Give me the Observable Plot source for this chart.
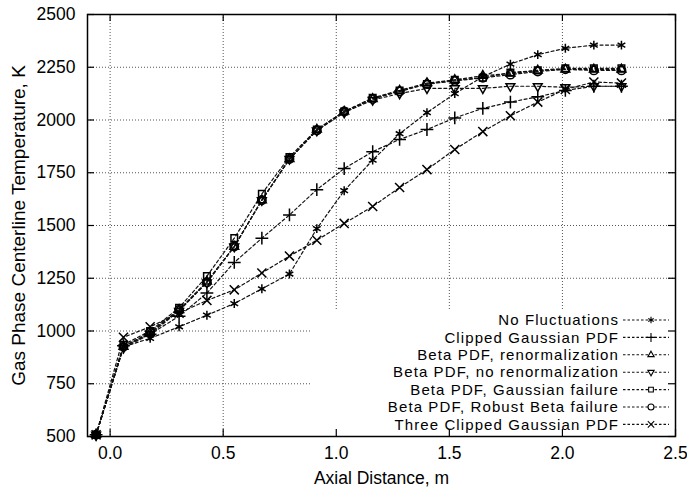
<!DOCTYPE html>
<html><head><meta charset="utf-8">
<script src="https://cdn.jsdelivr.net/npm/d3@7"></script>
<script src="https://cdn.jsdelivr.net/npm/@observablehq/plot@0.6"></script>
<style>
body{margin:0;background:#fff}
#chart{width:687px;height:490px}
</style>
</head><body><div id="chart"></div>
<script>
// ---- data ----
const axialDistance = [-0.062, 0.059, 0.177, 0.305, 0.428, 0.549, 0.671, 0.793, 0.914, 1.035, 1.161, 1.280, 1.401, 1.524, 1.648, 1.770, 1.891, 2.013, 2.139, 2.261];
const noFluctuations        = [508, 925, 965, 1020, 1075, 1130, 1200, 1270, 1485, 1665, 1810, 1935, 2035, 2125, 2205, 2265, 2310, 2340, 2355, 2355];
const clippedGaussian       = [508, 930, 985, 1070, 1180, 1325, 1440, 1550, 1670, 1770, 1850, 1908, 1955, 2010, 2055, 2085, 2110, 2140, 2160, 2160];
const betaRenorm            = [508, 925, 990, 1100, 1235, 1400, 1620, 1815, 1955, 2040, 2100, 2140, 2175, 2190, 2210, 2220, 2235, 2240, 2240, 2240];
const betaNoRenorm          = [508, 920, 985, 1095, 1230, 1400, 1620, 1815, 1950, 2035, 2095, 2125, 2150, 2150, 2150, 2160, 2160, 2155, 2160, 2160];
const betaGaussianFailure   = [508, 935, 1000, 1110, 1260, 1440, 1650, 1825, 1955, 2040, 2105, 2140, 2170, 2190, 2200, 2225, 2235, 2245, 2245, 2245];
const betaRobustFailure     = [508, 925, 995, 1100, 1230, 1400, 1620, 1815, 1950, 2040, 2100, 2135, 2170, 2185, 2200, 2215, 2230, 2240, 2235, 2235];
const threeClippedGaussian  = [508, 970, 1020, 1085, 1145, 1195, 1275, 1355, 1430, 1510, 1590, 1680, 1765, 1860, 1945, 2020, 2085, 2145, 2180, 2175];

const seriesNames = [
  "No Fluctuations",
  "Clipped Gaussian PDF",
  "Beta PDF, renormalization",
  "Beta PDF, no renormalization",
  "Beta PDF, Gaussian failure",
  "Beta PDF, Robust Beta failure",
  "Three Clipped Gaussian PDF"
];
const seriesValues = [noFluctuations, clippedGaussian, betaRenorm, betaNoRenorm, betaGaussianFailure, betaRobustFailure, threeClippedGaussian];
const seriesSymbols = ["asterisk", "plus", "triangle2", "triangle2", "square2", "circle", "times"];
const seriesRotate  = [0, 0, 0, 180, 0, 0, 0];

const xTicks = [0.0, 0.5, 1.0, 1.5, 2.0, 2.5];
const yTicks = [500, 750, 1000, 1250, 1500, 1750, 2000, 2250, 2500];
const xLabel = "Axial Distance, m";
const yLabel = "Gas Phase Centerline Temperature, K";

// ---- build ----
const rows = seriesNames.flatMap((name, s) =>
  axialDistance.map((x, i) => ({series: name, s, x, y: seriesValues[s][i]})));

const W = 687, H = 490;
const mL = 87, mR = 12, mT = 14, mB = 54;
const frameW = W - mL - mR, frameH = H - mT - mB;
const tickLen = 7;
// key area (grid is blanked under it in the original)
const keyInsetRight = 365;   // px from right frame edge
const keyInsetBottom = 126;  // px from bottom frame edge
const gridStyle = {stroke: "#555", strokeWidth: 1, strokeDasharray: "1,2"};
const fontFamily = "'Liberation Sans', Arial, Helvetica, sans-serif";

const marks = [
  // grid
  Plot.ruleY(yTicks.filter(v => v > 1000 && v < 2500), {y: d => d, ...gridStyle}),
  Plot.ruleY(yTicks.filter(v => v > 500 && v <= 1000), {y: d => d, insetRight: keyInsetRight, ...gridStyle}),
  Plot.ruleX(xTicks.filter(v => v < 1.0), {x: d => d, ...gridStyle}),
  Plot.ruleX(xTicks.filter(v => v >= 1.0 && v < 2.5), {x: d => d, insetBottom: keyInsetBottom, ...gridStyle}),
  // inward ticks
  Plot.ruleX(xTicks, {x: d => d, insetTop: frameH - tickLen, stroke: "#000", strokeWidth: 1.2}),
  Plot.ruleX(xTicks, {x: d => d, insetBottom: frameH - tickLen, stroke: "#000", strokeWidth: 1.2}),
  Plot.ruleY(yTicks, {y: d => d, insetRight: frameW - tickLen, stroke: "#000", strokeWidth: 1.2}),
  Plot.ruleY(yTicks, {y: d => d, insetLeft: frameW - tickLen, stroke: "#000", strokeWidth: 1.2}),
  // series lines
  Plot.line(rows, {x: "x", y: "y", z: "series", stroke: "#111", strokeWidth: 1.2, strokeDasharray: "3,2.5"}),
  // markers
  ...seriesNames.map((name, s) => Plot.dot(rows.filter(d => d.s === s), {
    x: "x", y: "y", symbol: seriesSymbols[s], rotate: seriesRotate[s],
    r: 4.2, stroke: "#000", strokeWidth: 1.5, fill: "none"
  })),
  Plot.frame({stroke: "#000", strokeWidth: 1.5}),
  Plot.axisX(xTicks, {tickSize: 0, tickPadding: 10, tickFormat: d3.format(".1f"), label: null}),
  Plot.axisY(yTicks, {tickSize: 0, tickPadding: 12, tickFormat: d => String(d), label: null}),
  Plot.text([xLabel], {text: d => d, frameAnchor: "bottom", dy: 42, lineAnchor: "middle", textAnchor: "middle"}),
  Plot.text([yLabel], {text: d => d, frameAnchor: "left", dx: -69, rotate: -90, lineAnchor: "middle", textAnchor: "middle", fontSize: 19})
];

const chart = Plot.plot({
  width: W, height: H,
  marginLeft: mL, marginRight: mR, marginTop: mT, marginBottom: mB,
  x: {domain: [-0.1, 2.5]},
  y: {domain: [500, 2500]},
  style: {fontFamily, fontSize: "17.5px", background: "#fff", color: "#000"},
  marks
});

// ---- key (legend), inside the frame at the lower right ----
const svg = d3.select(chart);
const key = svg.append("g").attr("font-family", fontFamily).attr("font-size", "15px").attr("letter-spacing", "1.1px");
const keyTextRight = 619, keyRowTop = 320, keyRowStep = 17.4;
const keySampleX1 = 623, keySampleX2 = 669, keyMarkX = 651;
const d3Sym = {asterisk: d3.symbolAsterisk, plus: d3.symbolPlus, triangle2: d3.symbolTriangle2, square2: d3.symbolSquare2, circle: d3.symbolCircle, times: d3.symbolTimes};
seriesNames.forEach((name, s) => {
  const cy = keyRowTop + s * keyRowStep;
  key.append("text").attr("x", keyTextRight).attr("y", cy).attr("dy", "0.35em")
    .attr("text-anchor", "end").attr("fill", "#000").text(name);
  key.append("line").attr("x1", keySampleX1).attr("x2", keySampleX2).attr("y1", cy).attr("y2", cy)
    .attr("stroke", "#111").attr("stroke-width", 1.1).attr("stroke-dasharray", "2.5,2");
  key.append("path")
    .attr("d", d3.symbol(d3Sym[seriesSymbols[s]], 3 * 3 * Math.PI)())
    .attr("transform", `translate(${keyMarkX},${cy}) rotate(${seriesRotate[s]})`)
    .attr("fill", "#fff").attr("stroke", "#000").attr("stroke-width", 1.1);
});

document.getElementById("chart").appendChild(chart);
</script>
</body></html>
